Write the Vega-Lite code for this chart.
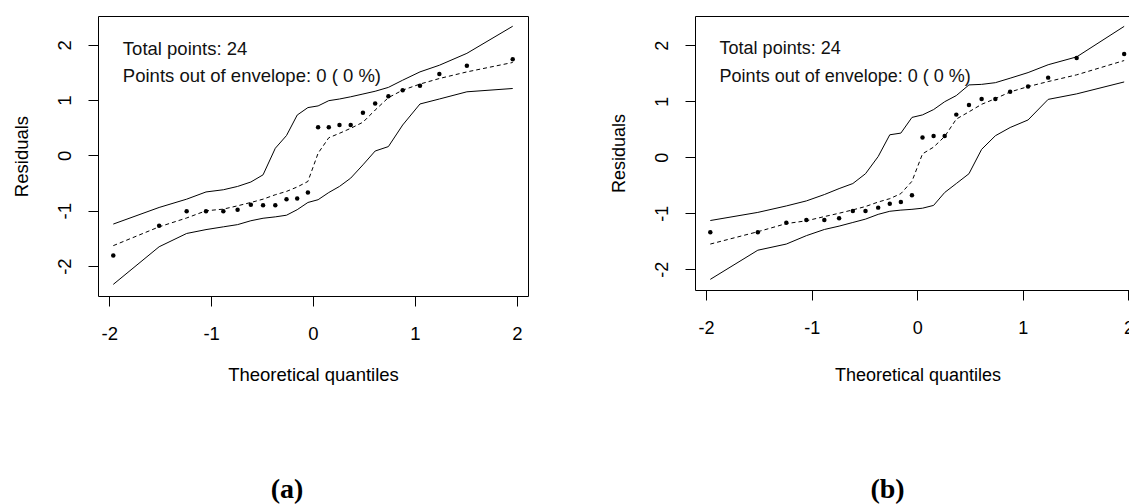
{
  "$schema": "https://vega.github.io/schema/vega-lite/v6.json",
  "background": "white",
  "padding": {"left": 11, "top": 15, "right": 0, "bottom": 0},
  "bounds": "flush",
  "spacing": 167,
  "config": {
    "view": {"stroke": "#000", "strokeWidth": 1},
    "axis": {
      "domain": false, "grid": false, "tickColor": "#000", "tickSize": 10, "tickWidth": 1,
      "labelColor": "#000", "labelFont": "Liberation Sans", "labelFontSize": 18.5, "labelFlush": false,
      "labelExpr": "'' + datum.value",
      "titleColor": "#000", "titleFont": "Liberation Sans", "titleFontSize": 18.5, "titleFontWeight": "normal"
    },
    "axisY": {
      "labelAngle": 270, "labelAlign": "center", "labelBaseline": "alphabetic", "labelPadding": 18,
      "titleAngle": 270, "titleAlign": "center", "titleBaseline": "alphabetic", "titleX": -71
    },
    "axisX": {"labelAlign": "center", "labelBaseline": "alphabetic", "labelPadding": 33, "titleBaseline": "alphabetic", "titleAlign": "center"}
  },
  "datasets": {
    "a": [
      {"x": -1.96, "resid": -1.81, "lower": -2.33, "median": -1.63, "upper": -1.24},
      {"x": -1.51, "resid": -1.27, "lower": -1.65, "median": -1.29, "upper": -0.94},
      {"x": -1.24, "resid": -1.01, "lower": -1.41, "median": -1.13, "upper": -0.79},
      {"x": -1.05, "resid": -1.01, "lower": -1.34, "median": -1.0, "upper": -0.66},
      {"x": -0.88, "resid": -1.01, "lower": -1.29, "median": -0.97, "upper": -0.62},
      {"x": -0.74, "resid": -0.98, "lower": -1.25, "median": -0.91, "upper": -0.56},
      {"x": -0.61, "resid": -0.89, "lower": -1.18, "median": -0.85, "upper": -0.48},
      {"x": -0.49, "resid": -0.9, "lower": -1.135, "median": -0.79, "upper": -0.35},
      {"x": -0.37, "resid": -0.9, "lower": -1.11, "median": -0.71, "upper": 0.13},
      {"x": -0.26, "resid": -0.79, "lower": -1.08, "median": -0.65, "upper": 0.36},
      {"x": -0.155, "resid": -0.78, "lower": -0.98, "median": -0.57, "upper": 0.73},
      {"x": -0.05, "resid": -0.67, "lower": -0.85, "median": -0.47, "upper": 0.865},
      {"x": 0.05, "resid": 0.51, "lower": -0.8, "median": 0.04, "upper": 0.895},
      {"x": 0.155, "resid": 0.51, "lower": -0.67, "median": 0.32, "upper": 0.99},
      {"x": 0.26, "resid": 0.55, "lower": -0.56, "median": 0.4, "upper": 1.02},
      {"x": 0.37, "resid": 0.55, "lower": -0.41, "median": 0.49, "upper": 1.06},
      {"x": 0.49, "resid": 0.77, "lower": -0.17, "median": 0.6, "upper": 1.11},
      {"x": 0.61, "resid": 0.94, "lower": 0.08, "median": 0.82, "upper": 1.16},
      {"x": 0.74, "resid": 1.07, "lower": 0.16, "median": 1.045, "upper": 1.23},
      {"x": 0.88, "resid": 1.18, "lower": 0.55, "median": 1.18, "upper": 1.36},
      {"x": 1.05, "resid": 1.26, "lower": 0.93, "median": 1.29, "upper": 1.51},
      {"x": 1.24, "resid": 1.47, "lower": 1.02, "median": 1.39, "upper": 1.63},
      {"x": 1.51, "resid": 1.62, "lower": 1.15, "median": 1.51, "upper": 1.845},
      {"x": 1.96, "resid": 1.74, "lower": 1.21, "median": 1.68, "upper": 2.335}
    ],
    "b": [
      {"x": -1.96, "resid": -1.34, "lower": -2.18, "median": -1.55, "upper": -1.13},
      {"x": -1.51, "resid": -1.34, "lower": -1.66, "median": -1.33, "upper": -0.985},
      {"x": -1.24, "resid": -1.17, "lower": -1.55, "median": -1.185, "upper": -0.87},
      {"x": -1.05, "resid": -1.12, "lower": -1.4, "median": -1.135, "upper": -0.78},
      {"x": -0.88, "resid": -1.12, "lower": -1.29, "median": -1.06, "upper": -0.667},
      {"x": -0.74, "resid": -1.09, "lower": -1.23, "median": -1.0, "upper": -0.56},
      {"x": -0.61, "resid": -0.96, "lower": -1.165, "median": -0.94, "upper": -0.47},
      {"x": -0.49, "resid": -0.96, "lower": -1.105, "median": -0.88, "upper": -0.295},
      {"x": -0.37, "resid": -0.9, "lower": -1.02, "median": -0.8, "upper": 0.012},
      {"x": -0.26, "resid": -0.83, "lower": -0.965, "median": -0.74, "upper": 0.4},
      {"x": -0.155, "resid": -0.8, "lower": -0.944, "median": -0.65, "upper": 0.43},
      {"x": -0.05, "resid": -0.68, "lower": -0.93, "median": -0.43, "upper": 0.71},
      {"x": 0.05, "resid": 0.35, "lower": -0.91, "median": 0.06, "upper": 0.755},
      {"x": 0.155, "resid": 0.38, "lower": -0.86, "median": 0.18, "upper": 0.85},
      {"x": 0.26, "resid": 0.38, "lower": -0.63, "median": 0.37, "upper": 0.99},
      {"x": 0.37, "resid": 0.76, "lower": -0.47, "median": 0.68, "upper": 1.1},
      {"x": 0.49, "resid": 0.93, "lower": -0.295, "median": 0.81, "upper": 1.29},
      {"x": 0.61, "resid": 1.04, "lower": 0.14, "median": 0.944, "upper": 1.3},
      {"x": 0.74, "resid": 1.04, "lower": 0.383, "median": 1.045, "upper": 1.33},
      {"x": 0.88, "resid": 1.17, "lower": 0.53, "median": 1.165, "upper": 1.41},
      {"x": 1.05, "resid": 1.26, "lower": 0.665, "median": 1.26, "upper": 1.51},
      {"x": 1.24, "resid": 1.42, "lower": 1.032, "median": 1.35, "upper": 1.65},
      {"x": 1.51, "resid": 1.77, "lower": 1.13, "median": 1.47, "upper": 1.79},
      {"x": 1.96, "resid": 1.84, "lower": 1.343, "median": 1.725, "upper": 2.335}
    ],
    "ta": [
      {"x": -1.866, "y": 1.814, "label": "Total points: 24"},
      {"x": -1.866, "y": 1.323, "label": "Points out of envelope: 0 ( 0 %)"}
    ],
    "tb": [
      {"x": -1.872, "y": 1.846, "label": "Total points: 24"},
      {"x": -1.872, "y": 1.345, "label": "Points out of envelope: 0 ( 0 %)"}
    ]
  },
  "hconcat": [
    {
      "width": 430,
      "height": 280,
      "title": {"text": "(a)", "orient": "bottom", "anchor": "middle", "frame": "group", "font": "Liberation Serif", "fontSize": 28, "fontWeight": "bold", "color": "#000", "baseline": "alphabetic", "offset": 114, "dx": -26},
      "encoding": {
        "x": {"field": "x", "type": "quantitative", "scale": {"domain": [-2.11, 2.11], "nice": false, "zero": false},
              "axis": {"values": [-2, -1, 0, 1, 2], "title": "Theoretical quantiles", "titleY": 84}}
      },
      "layer": [
        {"data": {"name": "a"}, "mark": {"type": "line", "stroke": "#000", "strokeWidth": 1},
         "encoding": {"y": {"field": "lower", "type": "quantitative", "title": "Residuals", "scale": {"domain": [-2.54, 2.52], "nice": false, "zero": false}, "axis": {"values": [-2, -1, 0, 1, 2]}}}},
        {"data": {"name": "a"}, "mark": {"type": "line", "stroke": "#000", "strokeWidth": 1},
         "encoding": {"y": {"field": "upper", "type": "quantitative", "title": "Residuals"}}},
        {"data": {"name": "a"}, "mark": {"type": "line", "stroke": "#000", "strokeWidth": 1, "strokeDash": [4, 3]},
         "encoding": {"y": {"field": "median", "type": "quantitative", "title": "Residuals"}}},
        {"data": {"name": "a"}, "mark": {"type": "circle", "color": "#000", "opacity": 1, "size": 20},
         "encoding": {"y": {"field": "resid", "type": "quantitative", "title": "Residuals"}}},
        {"data": {"name": "ta"}, "mark": {"type": "text", "align": "left", "baseline": "alphabetic", "font": "Liberation Sans", "fontSize": 18.5, "color": "#111"},
         "encoding": {"y": {"field": "y", "type": "quantitative", "title": "Residuals"}, "text": {"field": "label"}}}
      ]
    },
    {
      "width": 445,
      "height": 274,
      "title": {"text": "(b)", "orient": "bottom", "anchor": "middle", "frame": "group", "font": "Liberation Serif", "fontSize": 28, "fontWeight": "bold", "color": "#000", "baseline": "alphabetic", "offset": 114, "dx": -30},
      "encoding": {
        "x": {"field": "x", "type": "quantitative", "scale": {"domain": [-2.105, 2.11], "nice": false, "zero": false},
              "axis": {"values": [-2, -1, 0, 1, 2], "title": "Theoretical quantiles", "titleY": 90, "titleFontSize": 18, "labelFontSize": 18}}
      },
      "layer": [
        {"data": {"name": "b"}, "mark": {"type": "line", "stroke": "#000", "strokeWidth": 1},
         "encoding": {"y": {"field": "lower", "type": "quantitative", "title": "Residuals", "scale": {"domain": [-2.37, 2.52], "nice": false, "zero": false}, "axis": {"values": [-2, -1, 0, 1, 2], "titleFontSize": 18, "labelFontSize": 18}}}},
        {"data": {"name": "b"}, "mark": {"type": "line", "stroke": "#000", "strokeWidth": 1},
         "encoding": {"y": {"field": "upper", "type": "quantitative", "title": "Residuals"}}},
        {"data": {"name": "b"}, "mark": {"type": "line", "stroke": "#000", "strokeWidth": 1, "strokeDash": [4, 3]},
         "encoding": {"y": {"field": "median", "type": "quantitative", "title": "Residuals"}}},
        {"data": {"name": "b"}, "mark": {"type": "circle", "color": "#000", "opacity": 1, "size": 20},
         "encoding": {"y": {"field": "resid", "type": "quantitative", "title": "Residuals"}}},
        {"data": {"name": "tb"}, "mark": {"type": "text", "align": "left", "baseline": "alphabetic", "font": "Liberation Sans", "fontSize": 18, "color": "#111"},
         "encoding": {"y": {"field": "y", "type": "quantitative", "title": "Residuals"}, "text": {"field": "label"}}}
      ]
    }
  ]
}
